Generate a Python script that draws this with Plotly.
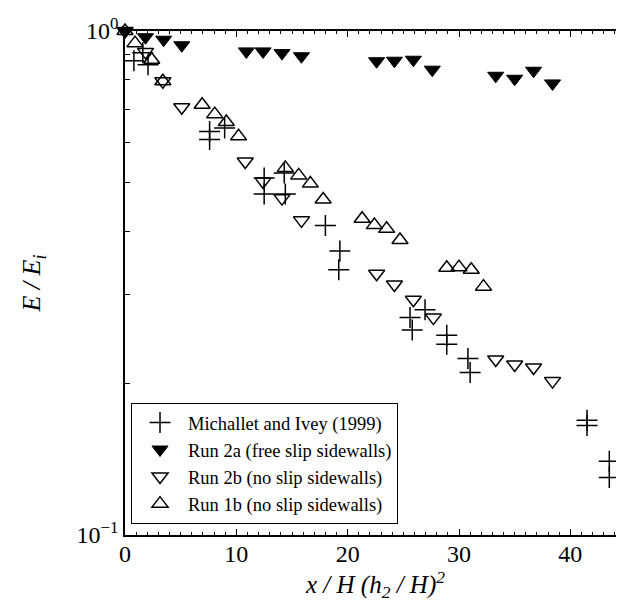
import plotly.graph_objects as go

# Michallet and Ivey (1999)
x_mi = [0.8, 1.6, 2.07, 7.6, 7.6, 8.95, 12.5, 12.5, 14.3, 14.4, 18.0, 19.3, 19.2,
        25.6, 25.8, 26.95, 28.9, 28.9, 30.8, 31.0, 41.5, 41.5, 43.5, 43.5]
y_mi = [0.873, 0.905, 0.857, 0.632, 0.609, 0.642, 0.511, 0.475, 0.523, 0.475, 0.411, 0.366, 0.336,
        0.270, 0.255, 0.280, 0.249, 0.239, 0.224, 0.210, 0.169, 0.165, 0.140, 0.130]

# Run 2a (free slip sidewalls)
x_2a = [0, 1.84, 3.47, 5.1, 10.9, 12.4, 14.1, 15.85, 22.6, 24.2, 25.9, 27.6, 33.3, 35.0, 36.7, 38.4]
y_2a = [1.0, 0.972, 0.961, 0.937, 0.911, 0.911, 0.904, 0.891, 0.871, 0.873, 0.877, 0.838,
        0.815, 0.804, 0.834, 0.787]

# Run 2b (no slip sidewalls)
x_2b = [0, 1.84, 3.4, 5.1, 10.8, 12.4, 14.1, 15.85, 22.6, 24.2, 25.9, 27.7, 33.3, 35.0, 36.7, 38.4]
y_2b = [1.0, 0.909, 0.795, 0.706, 0.551, 0.503, 0.466, 0.421, 0.330, 0.314, 0.293, 0.270,
        0.223, 0.218, 0.215, 0.202]

# Run 1b (no slip sidewalls)
x_1b = [0, 0.9, 2.4, 3.4, 6.93, 8.06, 9.1, 10.2, 14.4, 15.6, 16.65, 17.8, 21.3, 22.4, 23.5,
        24.7, 28.9, 30.0, 31.1, 32.2]
y_1b = [1.0, 0.946, 0.877, 0.795, 0.714, 0.684, 0.660, 0.618, 0.535, 0.517, 0.498, 0.463,
        0.424, 0.412, 0.405, 0.385, 0.339, 0.340, 0.336, 0.311]

names = ["Michallet and Ivey (1999)", "Run 2a (free slip sidewalls)",
         "Run 2b (no slip sidewalls)", "Run 1b (no slip sidewalls)"]

x_ticks = [0, 10, 20, 30, 40]
y_ticks = [0.1, 0.2, 0.3, 0.4, 0.5, 0.6, 0.7, 0.8, 0.9, 1.0]
y_ticktext = ["10<sup>−1</sup>", "", "", "", "", "", "", "", "", "10<sup>0</sup>"]

FONT = "Liberation Serif, Times New Roman, serif"

fig = go.Figure()
fig.add_trace(go.Scatter(x=x_mi, y=y_mi, mode="markers", name=names[0],
                         marker=dict(symbol="cross-thin-open", size=15, color="black",
                                     line=dict(color="black", width=1.5))))
fig.add_trace(go.Scatter(x=x_2a, y=y_2a, mode="markers", name=names[1],
                         marker=dict(symbol="triangle-down", size=14, color="black",
                                     line=dict(color="black", width=1))))
fig.add_trace(go.Scatter(x=x_2b, y=y_2b, mode="markers", name=names[2],
                         marker=dict(symbol="triangle-down-open", size=14, color="black",
                                     line=dict(color="black", width=1.5))))
fig.add_trace(go.Scatter(x=x_1b, y=y_1b, mode="markers", name=names[3],
                         marker=dict(symbol="triangle-up-open", size=14, color="black",
                                     line=dict(color="black", width=1.5))))
fig.update_traces(cliponaxis=False)

fig.update_layout(
    width=624, height=602,
    margin=dict(l=117, r=4, t=23, b=75),
    paper_bgcolor="white", plot_bgcolor="white",
    font=dict(family=FONT, color="black", size=20),
    showlegend=True,
    legend=dict(x=0.012, y=0.262, xanchor="left", yanchor="top",
                bgcolor="white", bordercolor="black", borderwidth=1,
                font=dict(family=FONT, size=18.5, color="black"),
                tracegroupgap=0, itemwidth=46),
)
fig.update_xaxes(
    range=[0, 45], tickvals=x_ticks, ticks="inside", ticklen=6, tickwidth=1,
    tickcolor="black", showline=True, linecolor="black", linewidth=1.5,
    mirror="ticks", showgrid=False, zeroline=False,
    tickfont=dict(family=FONT, size=24), ticklabelstandoff=-4,
    minor=dict(dtick=1, ticks="inside", ticklen=3, tickcolor="black", showgrid=False),
    title=dict(text="x / H (h<sub>2</sub> / H)<sup>2</sup>",
               font=dict(family=FONT, size=25, style="italic"), standoff=0),
)
fig.update_yaxes(
    type="log", range=[-1, 0], tickvals=y_ticks, ticktext=y_ticktext,
    ticks="inside", ticklen=5, tickwidth=1, tickcolor="black",
    showline=True, linecolor="black", linewidth=1.5, mirror="ticks",
    showgrid=False, zeroline=False, tickfont=dict(family=FONT, size=24),
    title=dict(text="E / E<sub>i</sub>",
               font=dict(family=FONT, size=26, style="italic"), standoff=28),
)

fig.write_html("out.html")
